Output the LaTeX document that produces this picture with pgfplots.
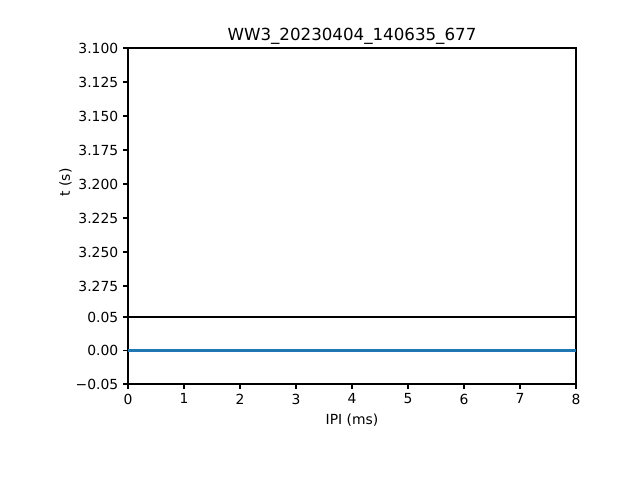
\documentclass[border=0pt]{standalone}
\usepackage{pgfplots}
\pgfplotsset{compat=1.18}
\usepackage{fontspec}
\setmainfont{DejaVu Sans}
\definecolor{mplblue}{HTML}{1F77B4}
\begin{document}
\begin{tikzpicture}
\path[use as bounding box] (0pt,0pt) rectangle (460.8pt,345.6pt);
\pgfplotsset{
  every axis/.append style={
    scale only axis,
    width=322.56pt,
    xmin=0, xmax=8,
    axis line style={line width=0.8pt},
    every tick/.style={black, line width=0.8pt},
    major tick length=3.5pt,
    tick align=outside,
    scaled y ticks=false,
    scaled x ticks=false,
    tick label style={font=\fontsize{10}{12}\selectfont},
    label style={font=\fontsize{10}{12}\selectfont},
    /pgf/number format/assume math mode=true,
  }
}
\begin{axis}[
  at={(92.16pt,117.36pt)}, anchor=south west,
  height=193.68pt,
  ymin=3.1, ymax=3.2978, y dir=reverse,
  ytick={3.1,3.125,3.15,3.175,3.2,3.225,3.25,3.275},
  yticklabels={3.100,3.125,3.150,3.175,3.200,3.225,3.250,3.275},
  ytick pos=left,
  xtick=\empty,
  ylabel={t (s)},
  ylabel style={xshift=0pt, yshift=-2pt},
  title={WW3\_20230404\_140635\_677},
  title style={font=\fontsize{12}{14}\selectfont, yshift=-7pt},
]
\end{axis}
\begin{axis}[
  at={(92.16pt,69.12pt)}, anchor=south west,
  height=48.24pt,
  ymin=-0.05, ymax=0.05,
  ytick={-0.05,0,0.05},
  yticklabels={−0.05,0.00,0.05},
  ytick pos=left,
  xtick={0,1,2,3,4,5,6,7,8},
  xtick pos=bottom,
  xlabel={IPI (ms)},
]
\addplot[mplblue, line width=1.5pt] coordinates {(0,0) (8,0)};
\end{axis}
\end{tikzpicture}
\end{document}
